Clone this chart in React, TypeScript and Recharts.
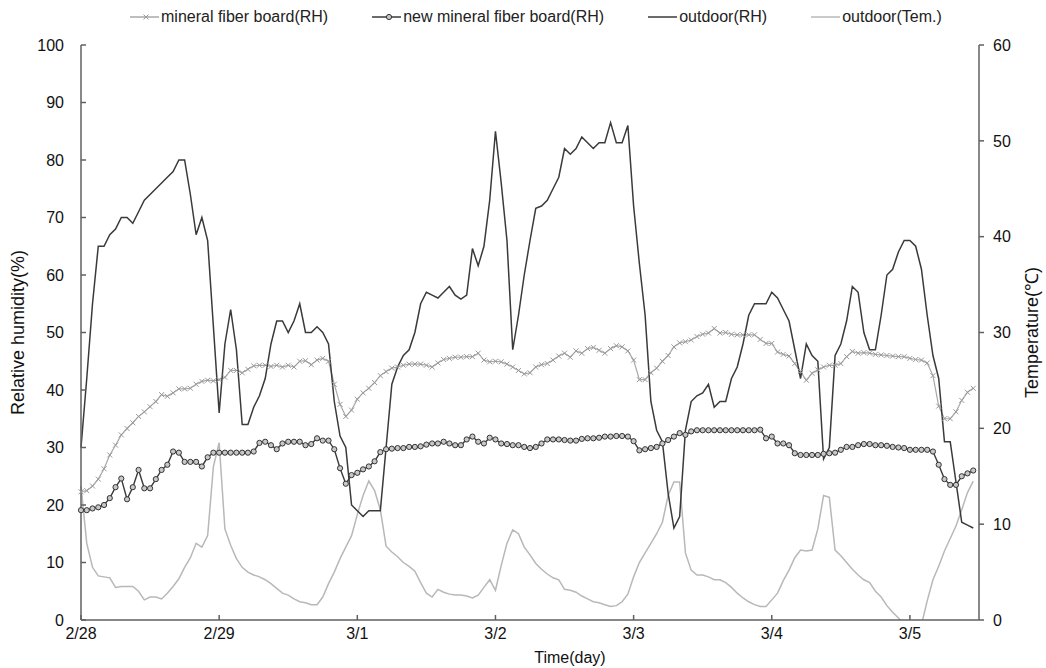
import { LineChart, Line, XAxis, YAxis } from "recharts"

// hourly readings, hour 0 = 2/28 00:00
const dayTicks = [0, 24, 48, 72, 96, 120, 144]
const dayLabels = ["2/28", "2/29", "3/1", "3/2", "3/3", "3/4", "3/5"]
const rhTicks = [0, 10, 20, 30, 40, 50, 60, 70, 80, 90, 100]
const tempTicks = [0, 10, 20, 30, 40, 50, 60]

const mineralFiberRH = [
    22.3, 22.5, 23.3, 24.5, 26.3, 28.7, 30.4, 32.2, 33.3, 34.3, 35.4, 36.2,
    37.1, 38.0, 39.2, 38.9, 39.5, 40.2, 40.2, 40.3, 41.0, 41.5, 41.7, 41.6,
    41.8, 42.2, 43.4, 43.4, 43.0, 43.6, 44.2, 44.3, 44.3, 44.1, 44.3, 44.0,
    44.3, 44.0, 45.0, 45.1, 44.4, 45.2, 45.5, 45.0, 41.0, 37.5, 35.4, 36.5,
    38.4, 39.5, 40.3, 41.3, 42.5, 43.2, 43.8, 44.0, 44.3, 44.5, 44.5, 44.5,
    44.3, 44.0, 44.7, 45.3, 45.5, 45.7, 45.7, 45.8, 45.8, 46.4, 45.2, 44.9,
    45.0, 44.9, 44.5, 44.0, 43.4, 42.8, 43.0, 44.0, 44.4, 44.6, 45.2, 45.9,
    46.4, 45.7, 46.8, 46.4, 47.2, 47.4, 46.9, 46.4, 47.2, 47.7, 47.5, 46.8,
    45.2, 41.8, 41.8, 43.0, 43.8, 45.0, 46.0, 47.5, 48.2, 48.4, 48.7, 49.3,
    49.7, 49.9, 50.7, 49.9, 50.0, 49.7, 49.6, 49.6, 49.6, 49.6, 48.8, 48.1,
    48.1, 46.6, 46.2, 45.9, 44.6, 43.2, 41.7, 42.9, 43.5, 44.0, 44.3, 44.3,
    44.6, 45.8, 46.7, 46.4, 46.5, 46.4, 46.2, 46.1, 46.0, 45.9, 45.8, 45.8,
    45.5, 45.3, 45.2, 44.7, 42.5, 37.2, 35.0, 35.0, 36.2, 38.2, 39.6, 40.3,
]

const newMineralFiberRH = [
    19.1, 19.1, 19.4, 19.6, 20.0, 21.2, 23.1, 24.6, 21.0, 23.1, 26.1, 22.9,
    22.9, 24.5, 26.1, 27.0, 29.3, 29.1, 27.5, 27.5, 27.5, 26.7, 28.3, 29.1,
    29.1, 29.1, 29.1, 29.1, 29.1, 29.1, 29.3, 30.8, 31.0, 30.4, 29.7, 30.7,
    31.0, 31.0, 31.0, 30.4, 30.6, 31.6, 31.2, 31.2, 29.7, 26.4, 23.7, 25.2,
    25.6, 26.2, 26.7, 27.6, 29.2, 29.7, 29.8, 29.9, 29.9, 30.1, 30.1, 30.2,
    30.5, 30.7, 30.7, 31.0, 30.7, 30.4, 30.4, 31.4, 31.9, 31.0, 30.7, 31.7,
    31.4, 30.7, 30.6, 30.4, 30.4, 30.1, 29.9, 30.1, 30.7, 31.4, 31.4, 31.4,
    31.3, 31.2, 31.2, 31.5, 31.6, 31.6, 31.7, 31.9, 31.9, 32.0, 32.0, 31.9,
    31.1, 29.5, 29.7, 29.9, 30.1, 30.7, 31.3, 31.9, 32.5, 32.2, 32.8, 33.0,
    33.0, 33.0, 33.0, 33.0, 33.0, 33.0, 33.0, 33.0, 33.0, 33.0, 33.1, 31.6,
    31.9, 30.7, 30.7, 30.4, 29.0, 28.7, 28.7, 28.7, 28.7, 28.9, 29.0, 29.1,
    29.6, 30.1, 30.1, 30.4, 30.6, 30.6, 30.4, 30.4, 30.3, 30.1, 30.0, 29.9,
    29.6, 29.6, 29.6, 29.6, 29.3, 27.0, 24.5, 23.5, 23.5, 25.0, 25.5, 26.0,
]

const outdoorRH = [
    30, 42, 55, 65, 65, 67, 68, 70, 70, 69, 71, 73,
    74, 75, 76, 77, 78, 80, 80, 74, 67, 70, 66, 51,
    36, 48, 54, 47, 34, 34, 37, 39, 42, 48, 52, 52,
    50, 52, 55, 50, 50, 51, 50, 48, 38, 32, 30, 20,
    19, 18, 19, 19, 19, 30, 41, 44, 46, 47, 50, 55,
    57, 56.5, 56, 57, 58, 56.5, 55.8, 56.5, 64.6, 61.6, 65, 73,
    85, 76, 66, 47, 53, 60, 66, 71.6, 72, 73, 75, 77,
    82, 81, 82, 84, 83, 82, 83, 83, 86.5, 83, 83, 86,
    72, 62, 53, 38, 33, 31, 22, 16, 18, 33, 38, 39,
    39.5, 41, 37, 38, 38, 42, 44, 48, 53, 55, 55, 55,
    57, 56, 54, 52, 47, 42, 48, 46, 45, 28, 30, 46,
    48, 52, 58, 57, 50, 47, 47, 53, 60, 61, 64, 66,
    66, 65, 61, 53, 46, 42, 31, 31, 24, 17, 16.5, 16,
]

const outdoorTemp = [
    14.0, 8.0, 5.5, 4.6, 4.5, 4.4, 3.4, 3.5, 3.5, 3.5, 3.0, 2.1,
    2.4, 2.4, 2.2, 2.8, 3.5, 4.3, 5.5, 6.5, 8.0, 7.6, 8.8, 16.0,
    18.5, 9.5, 7.8, 6.4, 5.5, 5.0, 4.7, 4.5, 4.2, 3.8, 3.3, 2.8,
    2.6, 2.2, 1.9, 1.8, 1.6, 1.6, 2.4, 3.8, 5.0, 6.4, 7.6, 8.8,
    11.0, 13.0, 14.5, 13.5, 11.5, 7.7, 7.1, 6.6, 6.0, 5.6, 5.1, 3.9,
    2.8, 2.4, 3.2, 2.9, 2.7, 2.6, 2.6, 2.5, 2.3, 2.6, 3.4, 4.2,
    3.1, 5.7, 8.0, 9.4, 9.0, 7.6, 6.8, 5.9, 5.3, 4.8, 4.4, 4.2,
    3.2, 3.1, 2.9, 2.5, 2.2, 1.9, 1.8, 1.6, 1.4, 1.5, 1.9, 2.7,
    4.5, 6.0, 7.0, 8.0, 9.0, 10.2, 13.0, 14.4, 14.4, 7.0, 5.2, 4.7,
    4.7, 4.5, 4.2, 4.2, 3.9, 3.4, 2.8, 2.3, 1.9, 1.6, 1.4, 1.4,
    2.1, 2.8, 4.1, 5.2, 6.5, 7.3, 7.2, 7.3, 9.5, 13.0, 12.8, 7.3,
    6.7, 6.0, 5.3, 4.7, 4.2, 3.9, 3.0, 2.4, 1.5, 0.8, 0.2, -0.4,
    -1.0, -1.4, -0.5, 2.0, 4.2, 5.6, 7.2, 8.5, 9.8, 11.5, 13.3, 14.5,
]

const data = outdoorRH.map((rh, hour) => ({
    hour,
    mineral: mineralFiberRH[hour],
    newMineral: newMineralFiberRH[hour],
    outdoorRH: rh,
    outdoorTem: outdoorTemp[hour],
}))

const FONT = "'Liberation Sans', Arial, sans-serif"
const AXIS = "#606060"
const DARK = "#3a3a3a"
const LIGHT = "#a8a8a8"
const TEMP = "#b8b8b8"

function crossPath(cx: number, cy: number, s: number) {
    return `M${cx - s},${cy - s}L${cx + s},${cy + s}M${cx - s},${cy + s}L${cx + s},${cy - s}`
}

const renderCross = (props: any) => {
    const { cx, cy, index } = props
    if (cx == null || cy == null) return <g key={`c-${index}`} />
    return <path key={`c-${index}`} d={crossPath(cx, cy, 2.5)} stroke="#999" strokeWidth={1} fill="none" />
}

const renderRing = (props: any) => {
    const { cx, cy, index } = props
    if (cx == null || cy == null) return <g key={`r-${index}`} />
    return <circle key={`r-${index}`} cx={cx} cy={cy} r={2.6} stroke="#333" strokeWidth={1} fill="#c8c8c8" />
}

const legendItems = [
    { name: "mineral fiber board(RH)", color: LIGHT, marker: "cross" },
    { name: "new mineral fiber board(RH)", color: DARK, marker: "ring" },
    { name: "outdoor(RH)", color: DARK, marker: "" },
    { name: "outdoor(Tem.)", color: TEMP, marker: "" },
]

function ChartLegend() {
    return (
        <div style={{ position: "absolute", top: 8, left: 130, display: "flex", gap: 44, fontFamily: FONT, fontSize: 16, color: "#222", lineHeight: "18px" }}>
            {legendItems.map((it) => (
                <div key={it.name} style={{ display: "flex", alignItems: "center" }}>
                    <svg width={29} height={12} style={{ marginRight: 2 }}>
                        <line x1={0} y1={6} x2={29} y2={6} stroke={it.color} strokeWidth={1.5} />
                        {it.marker === "cross" && <path d={crossPath(16, 6, 2.5)} stroke="#999" strokeWidth={1} />}
                        {it.marker === "ring" && <circle cx={17} cy={6} r={2.6} stroke="#333" fill="#c8c8c8" />}
                    </svg>
                    <span>{it.name}</span>
                </div>
            ))}
        </div>
    )
}

export default function App() {
    const tickStyle = { fontSize: 16, fill: "#111", fontFamily: FONT }
    return (
        <div style={{ position: "absolute", left: 0, top: 0, width: 1046, height: 668, background: "#fff" }}>
            <ChartLegend />
            <LineChart
                width={1046}
                height={668}
                data={data}
                margin={{ top: 45, right: 7, bottom: 18, left: 21 }}
            >
                <XAxis
                    xAxisId="bottom"
                    dataKey="hour"
                    type="number"
                    domain={[0, 156]}
                    ticks={dayTicks}
                    tickFormatter={(v) => dayLabels[dayTicks.indexOf(v)] ?? ""}
                    tick={tickStyle}
                    tickSize={-5}
                    tickMargin={13}
                    height={30}
                    stroke={AXIS}
                    strokeWidth={1.5}
                    label={{ value: "Time(day)", position: "center", dx: 40, dy: 22, style: { fontSize: 16, fill: "#111", fontFamily: FONT } }}
                />
                <XAxis xAxisId="top" orientation="top" dataKey="hour" type="number" domain={[0, 156]} height={0} tick={false} tickLine={false} stroke={AXIS} strokeWidth={1.5} />
                <YAxis
                    yAxisId="rh"
                    domain={[0, 100]}
                    ticks={rhTicks}
                    width={60}
                    tick={tickStyle}
                    tickSize={-5}
                    tickMargin={22}
                    stroke={AXIS}
                    strokeWidth={1.5}
                    label={{ value: "Relative humidity(%)", angle: -90, position: "center", dx: -33, style: { fontSize: 18, fill: "#111", fontFamily: FONT } }}
                />
                <YAxis
                    yAxisId="temp"
                    orientation="right"
                    domain={[0, 60]}
                    ticks={tempTicks}
                    allowDataOverflow
                    width={60}
                    tick={tickStyle}
                    tickSize={5}
                    tickMargin={9}
                    stroke={AXIS}
                    strokeWidth={1.5}
                    label={{ value: "Temperature(℃)", angle: -90, position: "center", dx: 23, style: { fontSize: 18, fill: "#111", fontFamily: FONT } }}
                />
                <Line xAxisId="bottom" yAxisId="temp" dataKey="outdoorTem" stroke={TEMP} strokeWidth={1.5} dot={false} activeDot={false} isAnimationActive={false} />
                <Line xAxisId="bottom" yAxisId="rh" dataKey="mineral" stroke={LIGHT} strokeWidth={1.2} dot={renderCross} activeDot={false} isAnimationActive={false} />
                <Line xAxisId="bottom" yAxisId="rh" dataKey="outdoorRH" stroke={DARK} strokeWidth={1.5} dot={false} activeDot={false} isAnimationActive={false} />
                <Line xAxisId="bottom" yAxisId="rh" dataKey="newMineral" stroke={DARK} strokeWidth={1.4} dot={renderRing} activeDot={false} isAnimationActive={false} />
            </LineChart>
        </div>
    )
}
